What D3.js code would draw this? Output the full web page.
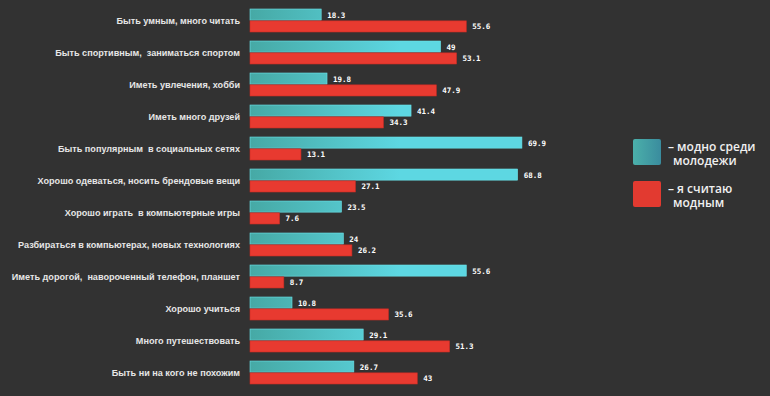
<!DOCTYPE html>
<html>
<head>
<meta charset="utf-8">
<script src="https://cdn.jsdelivr.net/npm/d3@7"></script>
<style>
  body { margin: 0; background: #323232; }
  svg { display: block; }
  .lbl { font: bold 9.1px "Liberation Sans", Arial, sans-serif; fill: #e6e6e6; white-space: pre; }
  .val { font: bold 7.5px "DejaVu Sans Mono", monospace; fill: #ffffff; }
  .leg { font: 600 12px "Open Sans", sans-serif; fill: #f0f0f0; }
</style>
</head>
<body>
<svg width="770" height="396"></svg>
<script>
// categories, top to bottom
var categories = [
  "Быть умным, много читать",
  "Быть спортивным,  заниматься спортом",
  "Иметь увлечения, хобби",
  "Иметь много друзей",
  "Быть популярным  в социальных сетях",
  "Хорошо одеваться, носить брендовые вещи",
  "Хорошо играть  в компьютерные игры",
  "Разбираться в компьютерах, новых технологиях",
  "Иметь дорогой,  навороченный телефон, планшет",
  "Хорошо учиться",
  "Много путешествовать",
  "Быть ни на кого не похожим"
]
// "модно среди молодежи"
var fashionable = [18.3, 49, 19.8, 41.4, 69.9, 68.8, 23.5, 24, 55.6, 10.8, 29.1, 26.7]
// "я считаю модным"
var myOpinion = [55.6, 53.1, 47.9, 34.3, 13.1, 27.1, 7.6, 26.2, 8.7, 35.6, 51.3, 43]

var seriesKeys = ["fashionable", "myOpinion"]
var legendLines = [["– модно среди", "молодежи"], ["– я считаю", "модным"]]

var rows = categories.map(function(c, i) {
  return {cat: c, fashionable: fashionable[i], myOpinion: myOpinion[i]}
})

var svg = d3.select("svg")

var defs = svg.append("defs")
var g1 = defs.append("linearGradient").attr("id", "tealGrad")
  .attr("gradientUnits", "userSpaceOnUse")
  .attr("x1", 250).attr("x2", 400).attr("y1", 0).attr("y2", 0)
g1.append("stop").attr("offset", "0%").attr("stop-color", "#46a9a5")
g1.append("stop").attr("offset", "100%").attr("stop-color", "#5dd7e2")

var g2 = defs.append("linearGradient").attr("id", "legGrad")
  .attr("x1", "0%").attr("x2", "100%")
g2.append("stop").attr("offset", "0%").attr("stop-color", "#4bb0aa")
g2.append("stop").attr("offset", "100%").attr("stop-color", "#3a8c9e")

var x = d3.scaleLinear().domain([0, 70]).range([250, 522.3])
var y0 = d3.scaleBand().domain(categories).range([9, 393])
var y1 = d3.scaleBand().domain(seriesKeys).range([0, 23]).paddingInner(0.06)

var fills = {fashionable: "url(#tealGrad)", myOpinion: "#e83a30"}
var strokes = {fashionable: "#6be3ea", myOpinion: "#c92c24"}

// category labels
svg.append("g").selectAll("text").data(rows).enter()
  .append("text")
  .attr("class", "lbl")
  .attr("x", 240)
  .attr("y", function(d) { return y0(d.cat) + 15 })
  .attr("text-anchor", "end")
  .text(function(d) { return d.cat })

var groups = svg.append("g").selectAll("g").data(rows).enter()
  .append("g")
  .attr("transform", function(d) { return "translate(0," + y0(d.cat) + ")" })

var cells = groups.selectAll("g.cell")
  .data(function(d) { return seriesKeys.map(function(k) { return {key: k, value: d[k]} }) })
  .enter().append("g").attr("class", "cell")

cells.append("rect")
  .attr("x", x(0))
  .attr("y", function(d) { return y1(d.key) })
  .attr("width", function(d) { return x(d.value) - x(0) })
  .attr("height", y1.bandwidth())
  .style("fill", function(d) { return fills[d.key] })
  .style("stroke", function(d) { return strokes[d.key] })
  .style("stroke-width", 0.6)

cells.append("text")
  .attr("class", "val")
  .attr("x", function(d) { return x(d.value) + 6 })
  .attr("y", function(d) { return y1(d.key) + y1.bandwidth() / 2 + 3 })
  .text(function(d) { return d.value })

// legend
var legend = svg.append("g").selectAll("g").data(seriesKeys).enter()
  .append("g")
  .attr("transform", function(d, i) { return "translate(633," + (139 + i * 42) + ")" })

legend.append("rect")
  .attr("width", 28).attr("height", 26).attr("rx", 2)
  .style("fill", function(d, i) { return i == 0 ? "url(#legGrad)" : "#e23a30" })

legend.each(function(d, i) {
  var t = d3.select(this)
  legendLines[i].forEach(function(line, j) {
    t.append("text").attr("class", "leg")
      .attr("x", j == 0 ? 35 : 40)
      .attr("y", 12 + j * 14)
      .text(line)
  })
})
</script>
</body>
</html>
